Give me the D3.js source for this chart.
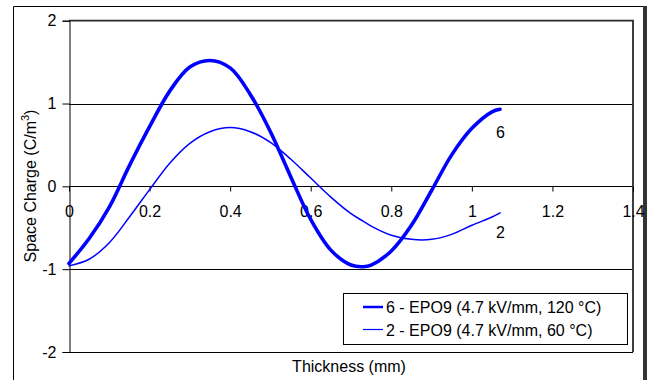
<!DOCTYPE html>
<html>
<head>
<meta charset="utf-8">
<script src="https://cdn.jsdelivr.net/npm/d3@7"></script>
<style>
  html, body { margin: 0; padding: 0; background: #fff; }
  svg { display: block; }
  text { font-family: "Liberation Sans", Arial, sans-serif; fill: #000; }
</style>
</head>
<body>
<svg id="chart" width="649" height="380"></svg>
<script>
// Thickness positions (mm)
const thickness = [0, 0.05, 0.10, 0.15, 0.20, 0.25, 0.30, 0.35, 0.40, 0.45, 0.50, 0.55,
                   0.60, 0.65, 0.70, 0.73, 0.75, 0.80, 0.85, 0.90, 0.95, 1.00, 1.05, 1.07];
// Space charge profile 6 - EPO9 (4.7 kV/mm, 120 °C)
const charge120 = [-0.93, -0.63, -0.25, 0.25, 0.72, 1.15, 1.44, 1.52, 1.43, 1.11, 0.66, 0.12,
                   -0.40, -0.77, -0.95, -0.97, -0.95, -0.78, -0.47, -0.05, 0.38, 0.70, 0.90, 0.93];
// Space charge profile 2 - EPO9 (4.7 kV/mm, 60 °C)
const charge60 = [-0.96, -0.88, -0.68, -0.37, -0.04, 0.28, 0.52, 0.66, 0.71, 0.66, 0.53, 0.33,
                  0.10, -0.13, -0.33, -0.42, -0.48, -0.59, -0.64, -0.64, -0.58, -0.47, -0.37, -0.32];
const seriesNames = ["6 - EPO9 (4.7 kV/mm, 120 \u00B0C)", "2 - EPO9 (4.7 kV/mm, 60 \u00B0C)"];
const endLabels = ["6", "2"];
const xTicks = [0, 0.2, 0.4, 0.6, 0.8, 1, 1.2, 1.4];
const yTicks = [-2, -1, 0, 1, 2];

const svg = d3.select("#chart");
const W = 649, H = 380;
const plot = { left: 69, right: 633, top: 20.7, bottom: 352 };

const x = d3.scaleLinear().domain([0, 1.4]).range([plot.left, plot.right]);
const y = d3.scaleLinear().domain([-2, 2]).range([plot.bottom, plot.top]);

svg.append("rect").attr("width", W).attr("height", H).attr("fill", "#fff");

// outer chart frame with shadow on the right
svg.append("rect").attr("x", 643).attr("y", 6).attr("width", 4).attr("height", H - 6).attr("fill", "#333");
svg.append("path").attr("d", `M13.5,${H} V6.5 H643`).attr("fill", "none").attr("stroke", "#000").attr("stroke-width", 1);

// horizontal gridlines
svg.append("g").selectAll("line").data([-1, 0, 1]).join("line")
  .attr("x1", plot.left).attr("x2", plot.right)
  .attr("y1", d => Math.round(y(d)) + 0.5).attr("y2", d => Math.round(y(d)) + 0.5)
  .attr("stroke", "#000").attr("stroke-width", 1);

// plot frame
svg.append("path")
  .attr("d", `M${plot.left},${y(2)} H${plot.right} V${plot.bottom}`)
  .attr("fill", "none").attr("stroke", "#2a2a2a").attr("stroke-width", 1.8);
svg.append("line").attr("x1", plot.left).attr("x2", plot.right)
  .attr("y1", Math.round(y(-2)) + 0.5).attr("y2", Math.round(y(-2)) + 0.5)
  .attr("stroke", "#000");

// y axis
const yAxis = d3.axisLeft(y).tickValues(yTicks).tickSize(7).tickPadding(6).tickFormat(d => String(d));
const gy = svg.append("g").attr("transform", `translate(${plot.left + 0.5},0)`).call(yAxis);
gy.select(".domain").attr("stroke", "#000");
gy.selectAll(".tick line").attr("stroke", "#000");
gy.selectAll(".tick text").attr("font-size", 16).attr("font-family", "Liberation Sans, Arial, sans-serif").attr("fill", "#000");

// x axis drawn along the zero line
const xAxis = d3.axisBottom(x).tickValues(xTicks).tickSize(5).tickPadding(14)
  .tickFormat(d => String(+d.toFixed(1)));
const gx = svg.append("g").attr("transform", `translate(0,${Math.round(y(0)) + 0.5})`).call(xAxis);
gx.select(".domain").remove();
gx.selectAll(".tick line").attr("stroke", "#000");
gx.selectAll(".tick text").attr("font-size", 16).attr("font-family", "Liberation Sans, Arial, sans-serif").attr("fill", "#000");

// curves
const line = d3.line().x(d => x(d[0])).y(d => y(d[1])).curve(d3.curveCatmullRom.alpha(0.5));
const series = [
  { values: charge120, width: 3.6, labelDy: 28.5 },
  { values: charge60, width: 1.5, labelDy: 25.5 }
];
svg.append("g").selectAll("path").data(series).join("path")
  .attr("d", s => line(thickness.map((t, i) => [t, s.values[i]])))
  .attr("fill", "none").attr("stroke", "#0000ff")
  .attr("stroke-width", s => s.width)
  .attr("stroke-linejoin", "round").attr("stroke-linecap", "round");

// end-of-curve labels
svg.append("g").selectAll("text").data(series).join("text")
  .attr("x", 496)
  .attr("y", s => y(s.values[s.values.length - 1]) + s.labelDy)
  .attr("font-size", 16)
  .text((s, i) => endLabels[i]);

// axis titles
svg.append("text").attr("x", 349).attr("y", 372).attr("text-anchor", "middle")
  .attr("font-size", 16).text("Thickness (mm)");
const yt = svg.append("text").attr("transform", "translate(36,186) rotate(-90)")
  .attr("text-anchor", "middle").attr("font-size", 16);
yt.append("tspan").text("Space Charge (C/m");
yt.append("tspan").attr("font-size", 11).attr("dy", -7).text("3");
yt.append("tspan").attr("dy", 7).text(")");

// legend
const lg = svg.append("g");
lg.append("rect").attr("x", 343.5).attr("y", 293.5).attr("width", 284).attr("height", 51)
  .attr("fill", "#fff").attr("stroke", "#000");
const rows = lg.selectAll("g").data(series).join("g")
  .attr("transform", (d, i) => `translate(0,${307 + i * 22.5})`);
rows.append("line").attr("x1", 363).attr("x2", 383).attr("y1", 0).attr("y2", 0)
  .attr("stroke", "#0000ff").attr("stroke-width", (d, i) => i === 0 ? 2.5 : 1.2);
rows.append("text").attr("x", 386).attr("y", 6).attr("font-size", 16)
  .text((d, i) => seriesNames[i]);
</script>
</body>
</html>
